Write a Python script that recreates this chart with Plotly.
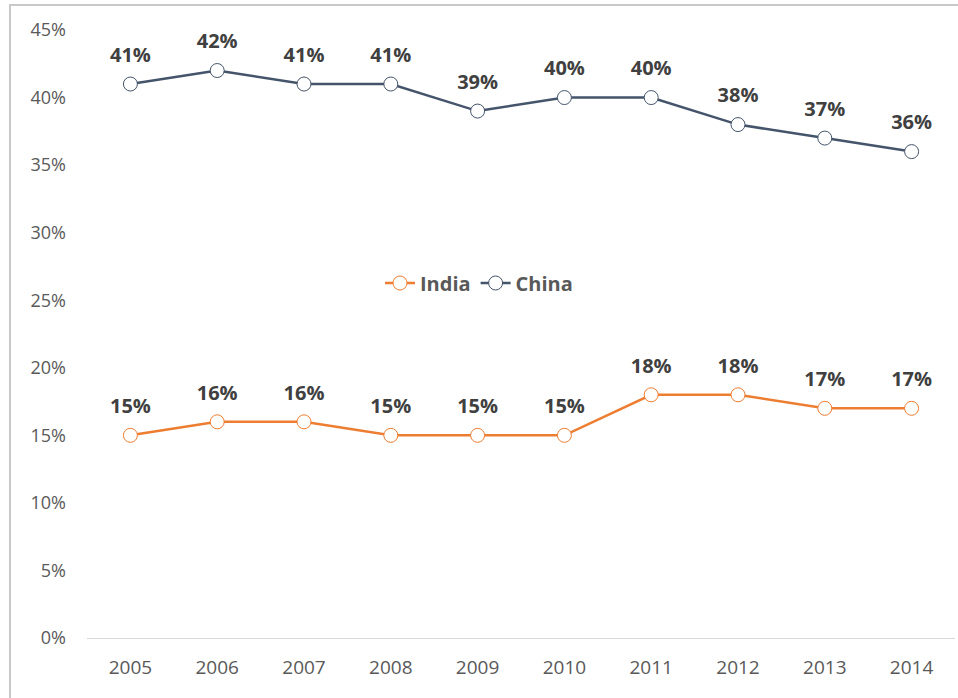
import plotly.graph_objects as go

years = ["2005", "2006", "2007", "2008", "2009", "2010", "2011", "2012", "2013", "2014"]
india = [15, 16, 16, 15, 15, 15, 18, 18, 17, 17]
china = [41, 42, 41, 41, 39, 40, 40, 38, 37, 36]
y_ticks = [0, 5, 10, 15, 20, 25, 30, 35, 40, 45]

W, H = 958, 698
L, R, T, B = 87, 3, 30, 60
pw, ph = W - L - R, H - T - B
FONT = "Open Sans, Liberation Sans, sans-serif"

fig = go.Figure()
for name, vals, col in [("India", india, "#ED7D31"), ("China", china, "#44546A")]:
    fig.add_trace(go.Scatter(
        x=years, y=vals, name=name, mode="lines+markers",
        line=dict(color=col, width=2.5),
        marker=dict(symbol="circle", size=14, color="white", line=dict(color=col, width=1)),
        cliponaxis=False,
    ))
for vals in (india, china):
    fig.add_trace(go.Scatter(
        x=years, y=vals, mode="markers+text", showlegend=False, hoverinfo="skip",
        marker=dict(size=26, color="rgba(0,0,0,0)"),
        text=[f"{v}%" for v in vals], textposition="top center",
        textfont=dict(family=FONT, size=20, color="#404040", weight="bold"),
        cliponaxis=False,
    ))

fig.update_layout(
    width=W, height=H, margin=dict(l=L, r=R, t=T, b=B),
    paper_bgcolor="white", plot_bgcolor="white",
    font=dict(family=FONT, color="#595959"),
    xaxis=dict(type="category", range=[-0.5, 9.5], showgrid=False, showline=True,
               linecolor="#D9D9D9", linewidth=1,
               ticks="", tickfont=dict(size=19, color="#595959"), ticklabelstandoff=12),
    yaxis=dict(range=[0, 45], tickvals=y_ticks, ticktext=[f"{v}%" for v in y_ticks],
               showgrid=False, zeroline=False, showline=False, ticks="",
               tickfont=dict(size=18, color="#595959"), ticklabelstandoff=20),
    legend=dict(orientation="h", x=(479 - L) / pw, xanchor="center", y=(H - B - 283) / ph,
                yanchor="middle",
                font=dict(size=20, color="#595959", weight="bold"), bgcolor="rgba(0,0,0,0)",
                itemwidth=30, tracegroupgap=0),
    showlegend=True,
)
fig.add_shape(type="rect", xref="paper", yref="paper",
              x0=(10 - L) / pw, x1=(W + 20 - L) / pw,
              y0=(H - B - (H + 20)) / ph, y1=(H - B - 5) / ph,
              line=dict(color="#C8C8C8", width=2), fillcolor="rgba(0,0,0,0)", layer="below")
fig.write_html("out.html", config={"displayModeBar": False},
               post_script="document.body.style.margin='0';document.body.style.overflow='hidden';")
